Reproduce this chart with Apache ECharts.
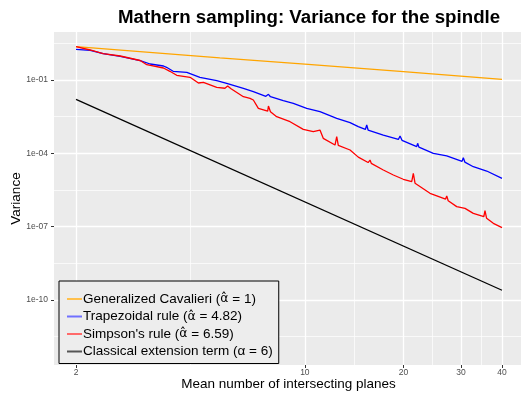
<!DOCTYPE html>
<html>
<head>
<meta charset="utf-8">
<script src="https://cdn.jsdelivr.net/npm/echarts@6/dist/echarts.min.js"></script>
<style>html,body{margin:0;padding:0;background:#fff}#c{width:521px;height:394px}</style>
</head>
<body>
<div id="c"></div>
<script>
// ---- data (n = mean number of planes, v = variance) ----
const seriesNames = [
  'Generalized Cavalieri (\u03B1\u0302 = 1)',
  'Trapezoidal rule (\u03B1\u0302 = 4.82)',
  "Simpson's rule (\u03B1\u0302 = 6.59)",
  'Classical extension term (\u03B1 = 6)'
];
const cavN = [2, 5.5, 10, 20, 40];
const cavV = [2.30, 0.80, 0.443, 0.219, 0.107];

const trapN = [2.00, 2.21, 2.42, 2.73, 3.14, 3.37, 3.70, 3.78, 3.96, 4.36, 4.78, 5.38, 5.77, 6.49, 6.96, 7.6, 7.74, 7.85, 8.59, 9.22, 10.13, 11.12, 12.51, 13.74, 14.56, 15.3, 15.45, 15.6, 17.36, 19.3, 19.53, 19.8, 21.96, 22.1, 22.3, 24.68, 27.12, 30.2, 30.47, 30.8, 32.69, 35.92, 40];
const trapV = [1.80, 1.64, 1.19, 0.933, 0.617, 0.452, 0.374, 0.331, 0.227, 0.207, 0.129, 0.0936, 0.0733, 0.0457, 0.0332, 0.0215, 0.0260, 0.0207, 0.0142, 0.0111, 0.00695, 0.00505, 0.00271, 0.0018, 0.00123, 0.00095, 0.00144, 0.0009, 5.6e-4, 3.7e-4, 5.1e-4, 3.4e-4, 1.9e-4, 2.57e-4, 1.8e-4, 1.0e-4, 7.8e-5, 4.7e-5, 6.6e-5, 4.4e-5, 2.84e-5, 1.89e-5, 9.5e-6];

const simpN = [2.00, 2.21, 2.42, 2.73, 3.14, 3.29, 3.70, 3.87, 4.06, 4.46, 4.73, 4.90, 5.38, 5.70, 5.81, 5.95, 6.49, 6.80, 6.96, 7.21, 7.70, 7.74, 7.85, 8.20, 9.01, 9.89, 10.61, 11.12, 11.38, 12.36, 12.51, 12.65, 13.74, 14.56, 14.74, 15.6, 15.81, 15.95, 17.36, 18.63, 19.98, 21.2, 21.44, 21.7, 21.96, 24.11, 26.9, 27.12, 27.4, 29.09, 30.84, 32.69, 35.2, 35.49, 35.9, 37.63, 40];
const simpV = [2.30, 1.69, 1.19, 0.96, 0.628, 0.423, 0.310, 0.227, 0.156, 0.129, 0.0754, 0.0805, 0.0503, 0.046, 0.0569, 0.044, 0.0207, 0.0178, 0.0152, 0.00695, 0.0053, 0.00863, 0.00505, 0.00315, 0.00197, 9.6e-4, 7.7e-4, 9.0e-4, 4.1e-4, 2.19e-4, 4.8e-4, 2.1e-4, 1.37e-4, 7.0e-5, 6.5e-5, 4.2e-5, 5.3e-5, 3.9e-5, 2.08e-5, 1.30e-5, 8.7e-6, 7.0e-6, 1.52e-5, 6.0e-6, 5.1e-6, 2.32e-6, 1.35e-6, 1.80e-6, 1.15e-6, 6.6e-7, 5.6e-7, 3.5e-7, 2.6e-7, 4.5e-7, 2.2e-7, 1.37e-7, 9.1e-8];

const classN = [2, 40];
const classV = [0.0162, 2.5e-10];

const xTicks = [2, 10, 20, 30, 40];
const xMinor = [4.47, 14.14, 24.49, 34.64];
const yTickExp = [-10, -7, -4, -1];
const yMinorExp = [-11.5, -8.5, -5.5, -2.5, 0.5];

// ---- build ----
const L = Math.log10;
const pts = (ns, vs) => ns.map((n, i) => [L(n), L(vs[i])]);
const FONT = 'Liberation Sans';
const xMin = 0.2338, xMax = 1.6662, yMin = -12.659, yMax = 0.964;

const chart = echarts.init(document.getElementById('c'), null, {renderer: 'canvas'});
const baseX = {type: 'value', min: xMin, max: xMax, gridIndex: 0};
const baseY = {type: 'value', min: yMin, max: yMax, gridIndex: 0};
const lineSeries = (name, data, color, z) => ({
  name, type: 'line', data, symbol: 'none', silent: true, animation: false,
  lineStyle: {color, width: 1.3}, itemStyle: {color}, z
});
const hatName = s => s.replace('\u03B1\u0302', '{g|\u03B1\u0302}');
chart.setOption({
  animation: false,
  title: {
    text: 'Mathern sampling: Variance for the spindle',
    left: 113, top: 3,
    textStyle: {fontFamily: FONT, fontSize: 18.7, fontWeight: 'bold', color: '#000'}
  },
  grid: {left: 54, top: 32, width: 469, height: 333, show: true, backgroundColor: '#EBEBEB', borderWidth: 0,
    outerBoundsMode: 'none', containLabel: false},
  xAxis: [
    Object.assign({}, baseX, {
      position: 'bottom',
      axisLine: {show: false, onZero: false},
      axisTick: {show: true, length: 3, lineStyle: {color: '#333', width: 1}, customValues: xTicks.map(L)},
      axisLabel: {show: true, customValues: xTicks.map(L), margin: 3,
        formatter: v => String(Math.round(Math.pow(10, v))),
        fontFamily: FONT, fontSize: 8.5, color: '#4D4D4D'},
      splitLine: {show: true, lineStyle: {color: '#FFFFFF', width: 1.3}},
      name: 'Mean number of intersecting planes', nameLocation: 'middle', nameGap: 12, nameMoveOverlap: false,
      nameTextStyle: {fontFamily: FONT, fontSize: 13.5, color: '#000'}
    }),
    Object.assign({}, baseX, {
      position: 'bottom',
      axisLine: {show: false, onZero: false},
      axisTick: {show: false, customValues: xMinor.map(L)},
      axisLabel: {show: false, customValues: xMinor.map(L)},
      splitLine: {show: true, lineStyle: {color: '#FFFFFF', width: 0.7}}
    })
  ],
  yAxis: [
    Object.assign({}, baseY, {
      position: 'left',
      axisLine: {show: false, onZero: false},
      axisTick: {show: true, length: 3, lineStyle: {color: '#333', width: 1}, customValues: yTickExp},
      axisLabel: {show: true, customValues: yTickExp, margin: 6,
        formatter: v => { const e = Math.round(v); return '1e' + (e < 0 ? '-' : '+') + String(Math.abs(e)).padStart(2, '0'); },
        fontFamily: FONT, fontSize: 8.5, color: '#4D4D4D'},
      splitLine: {show: true, lineStyle: {color: '#FFFFFF', width: 1.3}},
      name: 'Variance', nameLocation: 'middle', nameRotate: 90, nameGap: 31, nameMoveOverlap: false,
      nameTextStyle: {fontFamily: FONT, fontSize: 13.5, color: '#000'}
    }),
    Object.assign({}, baseY, {
      position: 'left',
      axisLine: {show: false, onZero: false},
      axisTick: {show: false, customValues: yMinorExp},
      axisLabel: {show: false, customValues: yMinorExp},
      splitLine: {show: true, lineStyle: {color: '#FFFFFF', width: 0.7}}
    })
  ],
  legend: {
    orient: 'vertical', left: 59, top: 281,
    backgroundColor: '#EDEDED', borderColor: '#000', borderWidth: 1,
    padding: [11, 6, 5, 7], itemWidth: 15, itemHeight: 13, itemGap: 3.5,
    itemStyle: {opacity: 0, borderWidth: 0},
    formatter: hatName,
    textStyle: {fontFamily: FONT, fontSize: 13.5, color: '#000', padding: [0, 0, 0, -4],
      rich: {g: {fontFamily: 'DejaVu Sans', fontSize: 12.5, color: '#000'}}},
    data: [
      {name: seriesNames[0], lineStyle: {color: '#FFC04D', width: 2}},
      {name: seriesNames[1], lineStyle: {color: '#7070FF', width: 2}},
      {name: seriesNames[2], lineStyle: {color: '#FF6A6A', width: 2}},
      {name: seriesNames[3], lineStyle: {color: '#555555', width: 2}}
    ]
  },
  series: [
    lineSeries(seriesNames[0], pts(cavN, cavV), '#FFA500', 3),
    lineSeries(seriesNames[1], pts(trapN, trapV), '#0000FF', 4),
    lineSeries(seriesNames[2], pts(simpN, simpV), '#FF0000', 5),
    lineSeries(seriesNames[3], pts(classN, classV), '#000000', 6)
  ]
});
</script>
</body>
</html>
